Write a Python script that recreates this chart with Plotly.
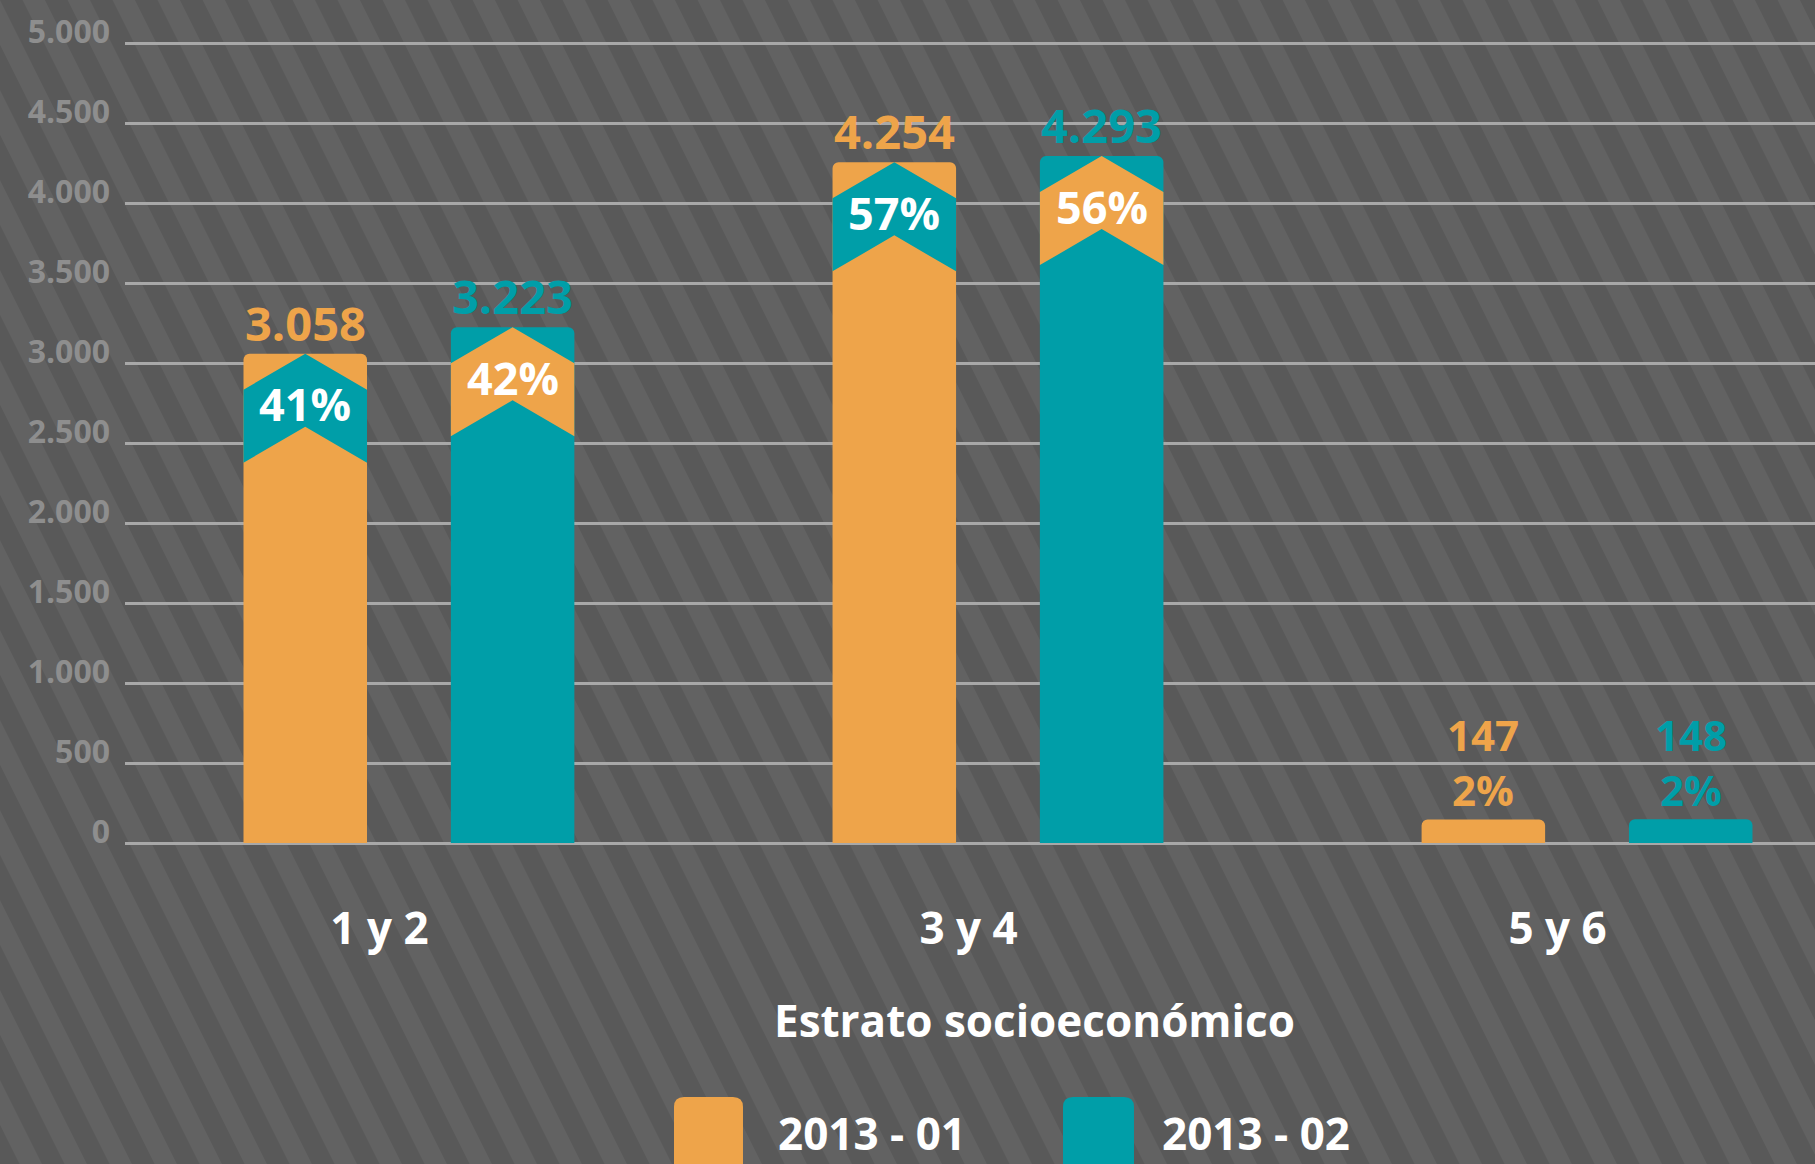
import plotly.graph_objects as go

# ---------------- data ----------------
categories = ["1 y 2", "3 y 4", "5 y 6"]
series_names = ["2013 - 01", "2013 - 02"]
values_2013_01 = [3058, 4254, 147]
values_2013_02 = [3223, 4293, 148]
pct_2013_01 = [41, 57, 2]
pct_2013_02 = [42, 56, 2]
y_tickvals = [0, 500, 1000, 1500, 2000, 2500, 3000, 3500, 4000, 4500, 5000]
axis_title = "Estrato socioeconómico"

# ---------------- style ----------------
ORANGE = "#EEA44A"
TEAL = "#009EA8"
colors = [ORANGE, TEAL]
FONT = "Open Sans"
W, H = 1815, 1164
ML, MR, MT, MB = 125, 0, 41, 319
PW, PH = W - ML - MR, H - MT - MB
X_RANGE = [-0.482, 2.387]
Y_RANGE = [-12.5, 5012.5]
units_per_px = (Y_RANGE[1] - Y_RANGE[0]) / PH
BAR_W = 0.2097
OFFSETS = [-0.176, 0.176]


def fmt(v):
    return f"{v:,}".replace(",", ".")


def px_to_paper(px, py):
    return (px - ML) / PW, (H - MB - py) / PH


fig = go.Figure()

series_values = [values_2013_01, values_2013_02]
series_pcts = [pct_2013_01, pct_2013_02]
annotations = []

for s, (name, vals, pcts) in enumerate(zip(series_names, series_values, series_pcts)):
    xs = [i + OFFSETS[s] for i in range(len(categories))]
    fig.add_trace(go.Bar(
        x=xs, y=vals, width=BAR_W, name=name,
        marker=dict(color=colors[s], line=dict(width=0), cornerradius=6),
        hoverinfo="skip", showlegend=False,
    ))
    other = colors[1 - s]
    for xc, v, p in zip(xs, vals, pcts):
        inside = v / units_per_px > 150
        if inside:
            a = 36 * units_per_px
            band = 73 * units_per_px
            xl, xr = xc - BAR_W / 2, xc + BAR_W / 2
            fig.add_trace(go.Scatter(
                x=[xl, xc, xr, xr, xc, xl, xl],
                y=[v - a, v, v - a, v - a - band, v - band, v - a - band, v - a],
                mode="lines", fill="toself", fillcolor=other,
                line=dict(width=0, color=other), hoverinfo="skip", showlegend=False,
            ))
            annotations.append(dict(
                x=xc, y=v, xref="x", yref="y", text=f"{p}%", showarrow=False,
                yanchor="middle", yshift=-50,
                font=dict(family=FONT, size=45, color="white", weight=700)))
            annotations.append(dict(
                x=xc, y=v, xref="x", yref="y", text=fmt(v), showarrow=False,
                yanchor="middle", yshift=31,
                font=dict(family=FONT, size=47, color=colors[s], weight=700)))
        else:
            annotations.append(dict(
                x=xc, y=v, xref="x", yref="y", text=f"{fmt(v)}<br>{p}%",
                showarrow=False, yanchor="middle", yshift=57,
                font=dict(family=FONT, size=42, color=colors[s], weight=700)))

# axis title
tx, ty = px_to_paper(1034, 1020)
annotations.append(dict(x=tx, y=ty, xref="paper", yref="paper", text=axis_title,
                        showarrow=False, xanchor="center", yanchor="middle",
                        font=dict(family=FONT, size=44, color="white", weight=700)))

shapes = []
# background stripes
P = 45.0
slope = 0.5
parts = []
k = -int(slope * H / P) - 2
while k * P < W + P:
    x0 = k * P
    pts = [(x0, 0), (x0 + P / 2, 0), (x0 + P / 2 + slope * H, H), (x0 + slope * H, H)]
    pp = [px_to_paper(a, b) for a, b in pts]
    parts.append("M" + " L".join(f"{a:.5f},{b:.5f}" for a, b in pp) + " Z")
    k += 1
shapes.append(dict(type="path", xref="paper", yref="paper", path=" ".join(parts),
                   fillcolor="#595959", line=dict(width=0), layer="below"))


def rounded_rect(x0, y0, x1, y1, r):
    def p(a, b):
        q = px_to_paper(a, b)
        return f"{q[0]:.5f},{q[1]:.5f}"
    return (f"M{p(x0 + r, y0)} L{p(x1 - r, y0)} Q{p(x1, y0)} {p(x1, y0 + r)} "
            f"L{p(x1, y1 - r)} Q{p(x1, y1)} {p(x1 - r, y1)} L{p(x0 + r, y1)} "
            f"Q{p(x0, y1)} {p(x0, y1 - r)} L{p(x0, y0 + r)} Q{p(x0, y0)} {p(x0 + r, y0)} Z")


# custom legend
legend_boxes = [(674, 743), (1063, 1134)]
legend_text_x = [776, 1160]
for s, name in enumerate(series_names):
    bx0, bx1 = legend_boxes[s]
    shapes.append(dict(type="path", xref="paper", yref="paper",
                       path=rounded_rect(bx0, 1097, bx1, 1185, 10),
                       fillcolor=colors[s], line=dict(width=0), layer="above"))
    lx, ly = px_to_paper(legend_text_x[s], 1133)
    annotations.append(dict(x=lx, y=ly, xref="paper", yref="paper", text=name,
                            showarrow=False, xanchor="left", yanchor="middle",
                            font=dict(family=FONT, size=44, color="white", weight=700)))

fig.update_layout(
    width=W, height=H,
    margin=dict(l=ML, r=MR, t=MT, b=MB, pad=0),
    paper_bgcolor="#626262", plot_bgcolor="rgba(0,0,0,0)",
    showlegend=False, barmode="overlay",
    separators=",.",
    shapes=shapes, annotations=annotations,
    xaxis=dict(range=X_RANGE, tickvals=[i - 0.05 for i in range(len(categories))],
               ticktext=categories, showgrid=False, zeroline=False, showline=False,
               ticks="", ticklabelstandoff=54,
               tickfont=dict(family=FONT, size=44, color="white", weight=700)),
    yaxis=dict(range=Y_RANGE, tickvals=y_tickvals, tickformat=",d",
               showgrid=True, gridcolor="#a8a8a8", gridwidth=3,
               zeroline=False, showline=False, ticks="", ticklabelstandoff=14,
               ticklabelshift=-11,
               tickfont=dict(family=FONT, size=32, color="#8e8e8e", weight=700)),
)

fig.write_html("out.html", config={"displayModeBar": False},
               post_script="document.body.style.margin='0';document.body.style.overflow='hidden';")
